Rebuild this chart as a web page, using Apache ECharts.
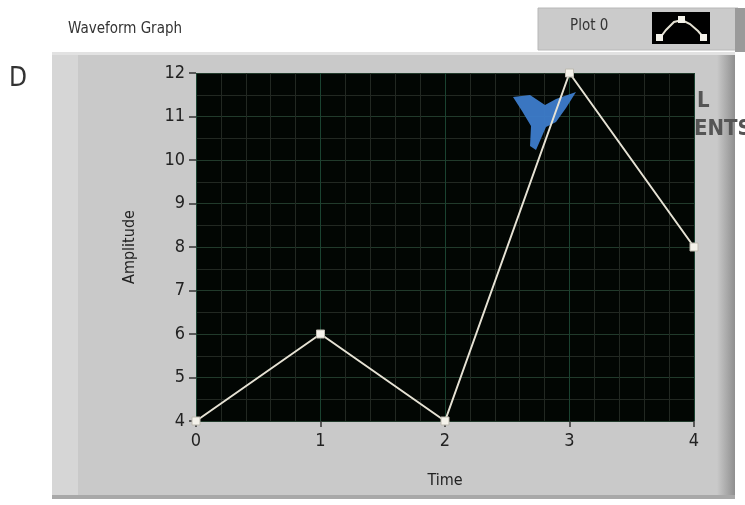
<!DOCTYPE html>
<html>
<head>
<meta charset="utf-8">
<script src="https://cdn.jsdelivr.net/npm/echarts@6/dist/echarts.min.js"></script>
<style>
html,body{margin:0;padding:0;background:#fff;}
#c{width:745px;height:505px;}
</style>
</head>
<body>
<div id="c"></div>
<script>
const timeValues = [0, 1, 2, 3, 4];
const amplitudeValues = [4, 6, 4, 12, 8];
const xTicks = [0, 1, 2, 3, 4];
const yTicks = [4, 5, 6, 7, 8, 9, 10, 11, 12];
const seriesName = 'Plot 0';

const chart = echarts.init(document.getElementById('c'), null, {renderer: 'canvas'});
const font = '"DejaVu Sans Condensed", "DejaVu Sans", sans-serif';

const option = {
  animation: false,
  backgroundColor: '#ffffff',
  grid: {
    left: 196, right: 51, top: 73, bottom: 84,
    show: true, backgroundColor: '#020603', borderWidth: 0
  },
  xAxis: {
    type: 'value', min: xTicks[0], max: xTicks[xTicks.length - 1], interval: 1,
    name: 'Time', nameLocation: 'middle', nameGap: 52,
    nameTextStyle: {fontFamily: font, fontSize: 16, color: '#222'},
    axisLine: {show: false},
    axisTick: {show: true, inside: false, length: 6, lineStyle: {color: '#333', width: 1.5}},
    axisLabel: {fontFamily: font, fontSize: 18, color: '#222', margin: 11},
    splitLine: {show: true, lineStyle: {color: '#1a4230', width: 1}},
    minorTick: {show: false, splitNumber: 5},
    minorSplitLine: {show: true, lineStyle: {color: '#222822', width: 1}}
  },
  yAxis: {
    type: 'value', min: yTicks[0], max: yTicks[yTicks.length - 1], interval: 1,
    name: 'Amplitude', nameLocation: 'middle', nameGap: 58, nameRotate: 90,
    nameTextStyle: {fontFamily: font, fontSize: 16, color: '#222'},
    axisLine: {show: false},
    axisTick: {show: true, length: 7, lineStyle: {color: '#333', width: 1.5}},
    axisLabel: {fontFamily: font, fontSize: 18, color: '#222', margin: 11},
    splitLine: {show: true, lineStyle: {color: '#213a2b', width: 1}},
    minorTick: {show: false, splitNumber: 2},
    minorSplitLine: {show: true, lineStyle: {color: '#222822', width: 1}}
  },
  series: [{
    name: seriesName,
    type: 'line',
    data: timeValues.map((t, i) => [t, amplitudeValues[i]]),
    symbol: 'rect', symbolSize: 8, showAllSymbol: true,
    lineStyle: {color: '#e6e2d4', width: 2},
    itemStyle: {color: '#f4f2ea', borderColor: '#bdbab0', borderWidth: 1},
    clip: false,
    z: 5
  }],
  graphic: [
    {type: 'rect', shape: {x: 52, y: 52, width: 683, height: 447}, style: {fill: '#c9c9c9'}, z: -10},
    {type: 'rect', shape: {x: 52, y: 52, width: 26, height: 447}, style: {fill: '#d6d6d6'}, z: -9},
    {type: 'rect', shape: {x: 717, y: 52, width: 18, height: 447},
      style: {fill: new echarts.graphic.LinearGradient(0, 0, 1, 0, [{offset: 0, color: '#c9c9c9'}, {offset: 1, color: '#8f8f8f'}])}, z: -9},
    {type: 'rect', shape: {x: 52, y: 52, width: 683, height: 3}, style: {fill: '#e2e2e2'}, z: -9},
    {type: 'rect', shape: {x: 52, y: 495, width: 683, height: 4}, style: {fill: '#a8a8a8'}, z: -9},
    {type: 'text', left: 68, top: 22, style: {text: 'Waveform Graph', font: '15px ' + font, fill: '#333'}},
    {type: 'text', left: 9, top: 66, style: {text: 'D', font: '26px ' + font, fill: '#333'}},
    {type: 'rect', shape: {x: 538, y: 8, width: 200, height: 42}, style: {fill: '#cbcbcb', stroke: '#b8b8b8', lineWidth: 1}, z: -5},
    {type: 'rect', shape: {x: 735, y: 8, width: 10, height: 44}, style: {fill: '#9a9a9a'}, z: -5},
    {type: 'text', left: 570, top: 19, style: {text: seriesName, font: '15px ' + font, fill: '#333'}},
    {type: 'rect', shape: {x: 652, y: 12, width: 58, height: 32}, style: {fill: '#000'}},
    {type: 'polyline', shape: {points: [[660, 38], [666, 30], [674, 22], [682, 20], [690, 24], [698, 31], [704, 38]]},
      style: {stroke: '#e6e2d4', lineWidth: 2, fill: null}},
    {type: 'rect', shape: {x: 656, y: 34, width: 7, height: 7}, style: {fill: '#f4f2ea'}},
    {type: 'rect', shape: {x: 678, y: 16, width: 7, height: 7}, style: {fill: '#f4f2ea'}},
    {type: 'rect', shape: {x: 700, y: 34, width: 7, height: 7}, style: {fill: '#f4f2ea'}},
    {type: 'polygon', z: 4, shape: {points: [[513, 97], [530, 95], [545, 105], [556, 99], [576, 92], [566, 108], [556, 122], [546, 127], [536, 150], [530, 146], [531, 126], [522, 111]]},
      style: {fill: '#3d7ccb', opacity: 0.95}},
    {type: 'text', left: 697, top: 90, style: {text: 'L', font: 'bold 22px ' + font, fill: '#555'}},
    {type: 'text', left: 694, top: 118, style: {text: 'ENTS', font: 'bold 22px ' + font, fill: '#555'}}
  ]
};
chart.setOption(option);
</script>
</body>
</html>
